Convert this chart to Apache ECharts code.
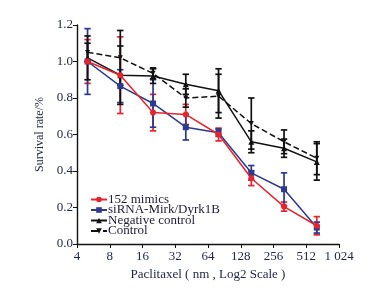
<!DOCTYPE html>
<html><head><meta charset="utf-8">
<script src="https://cdn.jsdelivr.net/npm/echarts@6/dist/echarts.min.js"></script>
<style>html,body{margin:0;padding:0;background:#fff}#c{width:383px;height:291px}</style>
</head><body><div id="c"></div>
<script>
var conc = [5, 10, 20, 40, 80, 160, 320, 640];
var xTicks = [4, 8, 16, 32, 64, 128, 256, 512, 1024];
var yTicks = [0, 0.2, 0.4, 0.6, 0.8, 1.0, 1.2];
var seriesNames = ['152 mimics', 'siRNA-Mirk/Dyrk1B', 'Negative control', 'Control'];
var mimics = [1.00, 0.925, 0.72, 0.71, 0.60, 0.36, 0.205, 0.10];
var mimicsErr = [0.12, 0.21, 0.10, 0.055, 0.035, 0.04, 0.025, 0.05];
var sirna = [1.00, 0.865, 0.77, 0.64, 0.61, 0.39, 0.30, 0.09];
var sirnaErr = [0.18, 0.09, 0.13, 0.07, 0.02, 0.04, 0.09, 0.03];
var negative = [1.02, 0.925, 0.92, 0.875, 0.84, 0.56, 0.525, 0.45];
var negativeErr = [0.12, 0.16, 0.04, 0.055, 0.12, 0.06, 0.05, 0.10];
var control = [1.05, 1.02, 0.935, 0.80, 0.81, 0.66, 0.56, 0.47];
var controlErr = [0.05, 0.15, 0.03, 0.05, 0.12, 0.14, 0.065, 0.09];

var colors = ['#e8232c', '#2b3990', '#111111', '#111111'];
var symbols = ['circle', 'rect', 'triangle', 'path://M0,0 L10,0 L5,10 Z'];
var values = [mimics, sirna, negative, control];
var errs = [mimicsErr, sirnaErr, negativeErr, controlErr];
var font = '"Liberation Serif", "DejaVu Serif", serif';

function pairs(v) { return conc.map(function (c, i) { return [c, v[i]]; }); }
function errData(v, e) { return conc.map(function (c, i) { return [c, v[i] - e[i], v[i] + e[i]]; }); }

function errSeries(idx) {
  return {
    type: 'custom', name: 'err' + idx, z: 1 + idx,
    data: errData(values[idx], errs[idx]),
    renderItem: function (params, api) {
      var lo = api.coord([api.value(0), api.value(1)]);
      var hi = api.coord([api.value(0), api.value(2)]);
      var w = 3.2;
      var st = { stroke: colors[idx], lineWidth: 1.7 };
      return { type: 'group', children: [
        { type: 'line', shape: { x1: lo[0], y1: lo[1], x2: hi[0], y2: hi[1] }, style: st },
        { type: 'line', shape: { x1: lo[0] - w, y1: lo[1], x2: lo[0] + w, y2: lo[1] }, style: st },
        { type: 'line', shape: { x1: hi[0] - w, y1: hi[1], x2: hi[0] + w, y2: hi[1] }, style: st }
      ]};
    },
    silent: true
  };
}

var series = [];
var order = [3, 2, 1, 0];
order.forEach(function (i) { series.push(errSeries(i)); });
order.forEach(function (i) {
  series.push({
    type: 'line', name: seriesNames[i], data: pairs(values[i]), z: 10 + (3 - i),
    symbol: symbols[i], symbolSize: i === 3 ? 5 : 6,
    itemStyle: { color: colors[i] },
    lineStyle: { color: colors[i], width: 1.5, type: i === 3 ? 'dashed' : 'solid' },
    emphasis: { disabled: true }
  });
});

var legends = seriesNames.map(function (n, i) {
  return {
    data: [n], left: 90, top: 193 + i * 10.5, padding: 0,
    itemWidth: 16, itemHeight: 7, itemGap: 0,
    textStyle: { fontFamily: font, fontSize: 13, color: '#1c1c3a', padding: [0, 0, 0, -4] }
  };
});

var chart = echarts.init(document.getElementById('c'), null, { renderer: 'canvas' });
chart.setOption({
  animation: false,
  backgroundColor: '#fff',
  grid: { left: 77, right: 44, top: 25, bottom: 47 },
  legend: legends,
  xAxis: {
    type: 'log', logBase: 2, min: xTicks[0], max: xTicks[xTicks.length - 1], interval: 1,
    name: 'Paclitaxel ( nm , Log2 Scale )', nameLocation: 'middle', nameGap: 21,
    nameTextStyle: { fontFamily: font, fontSize: 13, color: '#1c2448' },
    axisLine: { lineStyle: { color: '#111', width: 1.4 } },
    axisTick: { inside: false, length: 4, lineStyle: { color: '#111' } },
    axisLabel: { fontFamily: font, fontSize: 13, color: '#1c2448', margin: 6,
      formatter: function (v) { var r = Math.round(v); return r === 1024 ? '1 024' : String(r); } },
    splitLine: { show: false }
  },
  yAxis: {
    type: 'value', min: yTicks[0], max: yTicks[yTicks.length - 1], interval: 0.2,
    name: 'Survival rate/%', nameLocation: 'middle', nameGap: 22,
    nameTextStyle: { fontFamily: font, fontSize: 12, color: '#1c2448' },
    axisLine: { show: true, lineStyle: { color: '#111', width: 1.4 } },
    axisTick: { show: true, length: 4, lineStyle: { color: '#111' } },
    axisLabel: { fontFamily: font, fontSize: 13, color: '#1c2448', margin: 4,
      formatter: function (v) { return v.toFixed(1); } },
    splitLine: { show: false }
  },
  series: series
});
</script>
</body></html>
